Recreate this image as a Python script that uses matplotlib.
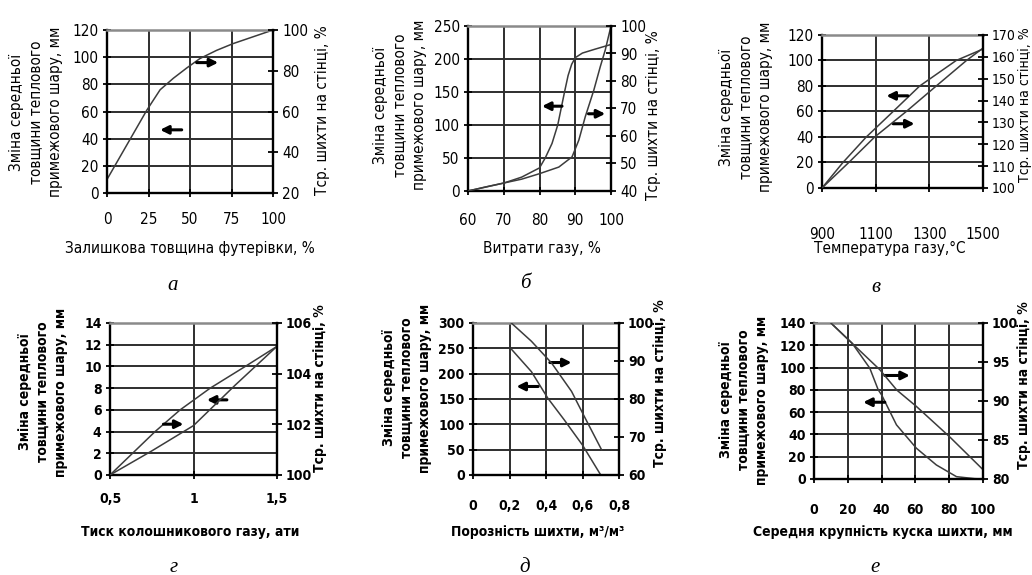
import matplotlib
matplotlib.use("Agg")
import matplotlib.pyplot as plt

W, H = 1032, 575

plt.rcParams["font.family"] = ["DejaVu Sans"]
plt.rcParams["font.stretch"] = "condensed"

Y_LABEL = "Зміна середньої\nтовщини теплового\nпримежового шару, мм"
R_LABEL = "Тср. шихти на стінці, %"

# а - residual lining thickness
a_x = [0, 8, 16, 24, 32, 40, 48, 56, 66, 76, 88, 100]
a_y = [10, 27, 44, 61, 76, 84.5, 92, 99, 105, 110, 115, 120]

# б - gas flow
b_x_left = [60, 65, 70, 75, 80, 81.6, 83.5, 85.1, 87, 88, 89, 90, 92, 95.6, 100]
b_y_left = [0, 6, 12, 21, 35, 50, 72, 100, 150, 175, 192, 202, 209, 215, 222]
b_x_right = [60, 65, 70, 75, 80, 85.4, 89.1, 91, 92.8, 95.2, 97, 98.4, 100]
b_y_right = [40, 41.5, 42.9, 44.3, 46.3, 48.7, 52.4, 58.5, 67, 76.7, 85.2, 91.3, 100]

# в - gas temperature
c_x_left = [900, 978, 1065, 1165, 1264, 1400, 1500]
c_y_left = [0, 20, 40, 60, 80, 100, 109]
c_x_right = [900, 1000, 1096, 1214, 1326, 1438, 1500]
c_y_right = [100, 111.7, 123.3, 135, 146.7, 158.3, 164]

# г - top gas pressure
d_x_left = [0.5, 0.77, 0.92, 1.1, 1.31, 1.5]
d_y_left = [0, 4, 6, 8, 10, 11.85]
d_x_right = [0.5, 0.75, 1.0, 1.25, 1.5]
d_y_right = [100, 100.95, 101.95, 103.55, 105.08]

# д - charge porosity
e_x_left = [0.21, 0.32, 0.41, 0.50, 0.60, 0.70]
e_y_left = [248.5, 204, 151.6, 108.8, 59, 0]
e_x_right = [0.21, 0.32, 0.43, 0.54, 0.61, 0.705]
e_y_right = [100, 95.2, 89.5, 82, 75.4, 66.6]

# е - mean lump size
f_x_left = [10, 22.5, 33, 38, 40, 48.8, 60.6, 72.4, 84.3, 95, 100]
f_y_left = [140, 122, 99.5, 80, 75.5, 48.6, 27.6, 12.6, 2.1, 0.3, 0]
f_x_right = [10, 22.5, 39, 49, 60.6, 80.3, 100]
f_y_right = [100, 97.4, 94, 91.4, 89.3, 85.4, 81.2]

GRID = "#2e2e2e"
LINE = "#3c3c3c"


def rect(l, t, r, b):
    return [l / W, 1 - b / H, (r - l) / W, (b - t) / H]


def fpos(x, y):
    return x / W, 1 - y / H


def arrow(ax, tail, tip):
    ax.annotate("", xy=tip, xytext=tail,
                arrowprops=dict(arrowstyle="-|>", color="black", lw=2.2,
                                mutation_scale=12, shrinkA=0, shrinkB=0))


def panel(fig, box, xlim, xticks, xtl, ylim, yticks, rlim, rticks, rtl,
          bold, xpad, labels, rsize=None):
    weight = "bold" if bold else "normal"
    size = 10 if bold else 11
    text_size = 10 if bold else 11
    ax = fig.add_axes(rect(*box))
    ax.set_xlim(xlim)
    ax.set_ylim(ylim)
    ax.set_xticks(xticks)
    ax.set_xticklabels(xtl, fontsize=size, fontweight=weight)
    ax.set_yticks(yticks)
    ax.set_yticklabels([str(v) for v in yticks], fontsize=size, fontweight=weight)
    ax.grid(True, color=GRID, lw=1.4)
    ax.set_axisbelow(True)
    ax.tick_params(axis="y", direction="inout", length=6, width=1.3, pad=3)
    ax.tick_params(axis="x", direction="inout", length=6, width=1.3, pad=xpad)
    for s in ("left", "bottom"):
        ax.spines[s].set_linewidth(1.7)
    ax.spines["top"].set_color("#8a8a8a")
    ax.spines["top"].set_linewidth(1.8)
    ax.spines["right"].set_visible(False)

    ax2 = ax.twinx()
    ax2.set_ylim(rlim)
    ax2.set_yticks(rticks)
    ax2.set_yticklabels(rtl, fontsize=rsize or size, fontweight=weight)
    ax2.tick_params(axis="y", direction="inout", length=7, width=1.3, pad=3)
    ax2.spines["right"].set_linewidth(1.7)
    for s in ("left", "top", "bottom"):
        ax2.spines[s].set_visible(False)

    ylx, yly, rlx, rly, xlx, xly, letx, lety, letter, xlabel = labels
    fig.text(*fpos(ylx, yly), Y_LABEL, rotation=90, ha="center", va="center",
             fontsize=text_size, fontweight=weight, linespacing=1.35,
             multialignment="center")
    fig.text(*fpos(rlx, rly), R_LABEL, rotation=90, ha="center", va="center",
             fontsize=rsize or text_size, fontweight=weight)
    fig.text(*fpos(xlx, xly), xlabel, ha="center", va="center",
             fontsize=text_size, fontweight=weight)
    fig.text(*fpos(letx, lety), letter, ha="center", va="center", fontsize=15,
             family="Liberation Serif", style="italic", stretch="normal")
    return ax, ax2


fig = plt.figure(figsize=(W / 100, H / 100), dpi=100)

# а
ax, ax2 = panel(fig, (107, 30, 273, 193), (0, 100), [0, 25, 50, 75, 100],
                ["0", "25", "50", "75", "100"], (0, 120), list(range(0, 121, 20)),
                (20, 100), [20, 40, 60, 80, 100], ["20", "40", "60", "80", "100"],
                False, 11,
                (36, 112, 322, 110, 190, 248, 173, 285, "а",
                 "Залишкова товщина футерівки, %"))
ax.plot(a_x, a_y, color=LINE, lw=1.1)
arrow(ax, (54, 96), (67, 96))
arrow(ax, (45, 46.5), (32, 46.5))

# б
ax, ax2 = panel(fig, (468, 26, 611, 191), (60, 100), [60, 70, 80, 90, 100],
                ["60", "70", "80", "90", "100"], (0, 250), list(range(0, 251, 50)),
                (40, 100), list(range(40, 101, 10)), [str(v) for v in range(40, 101, 10)],
                False, 13,
                (400, 105, 653, 115, 542, 248, 525, 283, "б", "Витрати газу, %"))
ax.plot(b_x_left, b_y_left, color=LINE, lw=1.1)
ax2.plot(b_x_right, b_y_right, color=LINE, lw=1.1)
arrow(ax, (86.3, 128.5), (80.7, 128.5))
arrow(ax, (93.7, 117), (98.4, 117))

# в
ax, ax2 = panel(fig, (822, 35, 983, 188), (900, 1500), [900, 1100, 1300, 1500],
                ["900", "1100", "1300", "1500"], (0, 120), list(range(0, 121, 20)),
                (100, 170), list(range(100, 171, 10)), [str(v) for v in range(100, 171, 10)],
                False, 25,
                (746, 107, 1025, 105, 890, 248, 876, 287, "в", "Температура газу,°С"),
                rsize=10)
ax.plot(c_x_left, c_y_left, color=LINE, lw=1.1)
ax2.plot(c_x_right, c_y_right, color=LINE, lw=1.1)
arrow(ax, (1220, 72.3), (1140, 72.3))
arrow(ax, (1165, 50.4), (1245, 50.4))

# г
ax, ax2 = panel(fig, (110, 323, 277, 475), (0.5, 1.5), [0.5, 1, 1.5],
                ["0,5", "1", "1,5"], (0, 14), list(range(0, 15, 2)),
                (100, 106), [100, 102, 104, 106], ["100", "102", "104", "106"],
                True, 9,
                (43, 392, 320, 388, 190, 532, 174, 567, "г",
                 "Тиск колошникового газу, ати"))
ax.plot(d_x_left, d_y_left, color=LINE, lw=1.1)
ax2.plot(d_x_right, d_y_right, color=LINE, lw=1.1)
arrow(ax, (1.2, 6.92), (1.08, 6.92))
arrow(ax, (0.82, 4.68), (0.94, 4.68))

# д
ax, ax2 = panel(fig, (473, 323, 619, 475), (0, 0.8), [0, 0.2, 0.4, 0.6, 0.8],
                ["0", "0,2", "0,4", "0,6", "0,8"], (0, 300), list(range(0, 301, 50)),
                (60, 100), [60, 70, 80, 90, 100], ["60", "70", "80", "90", "100"],
                True, 14,
                (407, 388, 660, 383, 538, 532, 525, 567, "д",
                 "Порозність шихти, м³/м³"))
ax.plot(e_x_left, e_y_left, color=LINE, lw=1.1)
ax2.plot(e_x_right, e_y_right, color=LINE, lw=1.1)
arrow(ax, (0.421, 222), (0.54, 222))
arrow(ax, (0.357, 174.7), (0.238, 174.7))

# е
ax, ax2 = panel(fig, (814, 323, 983, 479), (0, 100), [0, 20, 40, 60, 80, 100],
                ["0", "20", "40", "60", "80", "100"], (0, 140), list(range(0, 141, 20)),
                (80, 100), [80, 85, 90, 95, 100], ["80", "85", "90", "95", "100"],
                True, 14,
                (744, 400, 1024, 385, 883, 532, 875, 567, "е",
                 "Середня крупність куска шихти, мм"))
ax.plot(f_x_left, f_y_left, color=LINE, lw=1.1)
ax2.plot(f_x_right, f_y_right, color=LINE, lw=1.1)
arrow(ax, (41.9, 92.9), (56.7, 92.9))
arrow(ax, (41.9, 68.9), (29.1, 68.9))

fig.savefig("out.png", dpi=100)
